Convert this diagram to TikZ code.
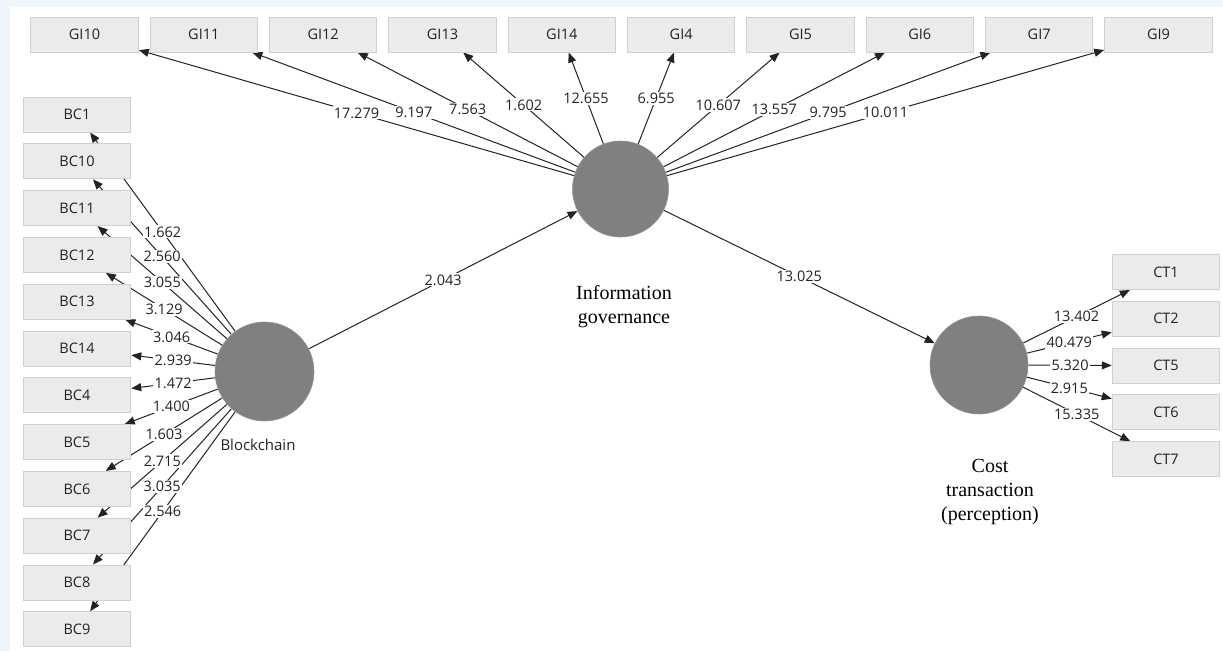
\documentclass[tikz,border=0pt]{standalone}
\usepackage{fontspec}
\setmainfont{Open Sans}
\newfontfamily\serifface{Liberation Serif}
\usetikzlibrary{arrows.meta}
\pgfdeclarelayer{back}
\pgfdeclarelayer{lines}
\pgfdeclarelayer{front}
\pgfsetlayers{back,lines,main,front}

\definecolor{pageblue}{RGB}{238,245,252}
\definecolor{boxfill}{RGB}{235,235,235}
\definecolor{boxline}{RGB}{208,208,208}
\definecolor{latent}{RGB}{128,128,128}
\definecolor{ink}{RGB}{34,34,34}
\definecolor{wire}{RGB}{35,35,35}

\tikzset{
  indicator/.style={draw=boxline, line width=1pt, fill=boxfill,
    minimum width=107.5pt, minimum height=35pt, inner sep=0pt,
    font=\fontsize{14.5}{17}\selectfont, text=ink},
  construct/.style={circle, fill=latent, draw=latent!85, line width=0.6pt, inner sep=0pt},
  link/.style={draw=wire, line width=1pt, -{Triangle[length=10pt,width=8pt]}},
  coef/.style={fill=white, inner sep=1.2pt, font=\fontsize{14.5}{17}\selectfont, text=ink},
  sanslabel/.style={font=\fontsize{15}{18}\selectfont, text=ink},
  seriflabel/.style={font=\serifface\fontsize{20}{24}\selectfont, align=center, text=black},
}

\begin{document}
\begin{tikzpicture}[x=1pt,y=-1pt]
% page background with its pale frame on the left and top
\begin{pgfonlayer}{back}
  \fill[pageblue] (0,0) rectangle (1223,651);
  \fill[white] (10,7) rectangle (1223,651);
\end{pgfonlayer}
\useasboundingbox (0,0) rectangle (1223,651);

% latent variables
\node[construct, minimum size=99pt] (BCl) at (264.5,371.5) {};
\node[construct, minimum size=96pt] (IG)  at (620.5,189) {};
\node[construct, minimum size=98pt] (CTc) at (979,365) {};

\node[sanslabel] (BClab) at (258,445) {Blockchain};
\node[seriflabel] (IGlab) at (624,307) {Information\\governance};
\node[seriflabel] (CTlab) at (990,492) {Cost\\transaction\\(perception)};

% indicators of information governance (top row)
\foreach \n [count=\i from 0] in {GI10,GI11,GI12,GI13,GI14,GI4,GI5,GI6,GI7,GI9}
  \node[indicator] (\n) at ({84.5+119.33*\i},34.5) {\n};

% indicators of blockchain (left column)
\foreach \n [count=\i from 0] in {BC1,BC10,BC11,BC12,BC13,BC14,BC4,BC5,BC6,BC7,BC8,BC9}
  \node[indicator] (\n) at (77,{114.5+46.8*\i}) {\n};

% indicators of cost transaction (right column)
\foreach \n [count=\i from 0] in {CT1,CT2,CT5,CT6,CT7}
  \node[indicator] (\n) at (1166,{272+46.8*\i}) {\n};

% connectors, kept behind the boxes
\begin{pgfonlayer}{lines}
  \foreach \n in {GI10,GI11,GI12,GI13,GI14,GI4,GI5,GI6,GI7,GI9}
    \draw[link] (IG) -- (\n);
  \foreach \n in {BC1,BC10,BC11,BC12,BC13,BC14,BC4,BC5,BC6,BC7,BC8,BC9}
    \draw[link] (BCl) -- (\n);
  \foreach \n in {CT1,CT2,CT5,CT6,CT7}
    \draw[link] (CTc) -- (\n);
  \draw[link] (BCl) -- (IG);
  \draw[link] (IG) -- (CTc);
\end{pgfonlayer}

% path coefficients, on top of every line
\begin{pgfonlayer}{front}
  \foreach \n/\v in {GI10/17.279,GI11/9.197,GI12/7.563,GI13/1.602,GI14/12.655,
                     GI4/6.955,GI5/10.607,GI6/13.557,GI7/9.795,GI9/10.011}
    \path (IG) -- (\n) node[coef, midway] {\v};
  \foreach \n/\v in {BC1/1.662,BC10/2.560,BC11/3.055,BC12/3.129,BC13/3.046,BC14/2.939,
                     BC4/1.472,BC5/1.400,BC6/1.603,BC7/2.715,BC8/3.035,BC9/2.546}
    \path (BCl) -- (\n) node[coef, midway] {\v};
  \foreach \n/\v in {CT1/13.402,CT2/40.479,CT5/5.320,CT6/2.915,CT7/15.335}
    \path (CTc) -- (\n) node[coef, midway] {\v};
  \path (BCl) -- (IG) node[coef, midway] {2.043};
  \path (IG) -- (CTc) node[coef, midway] {13.025};
\end{pgfonlayer}
\end{tikzpicture}
\end{document}
